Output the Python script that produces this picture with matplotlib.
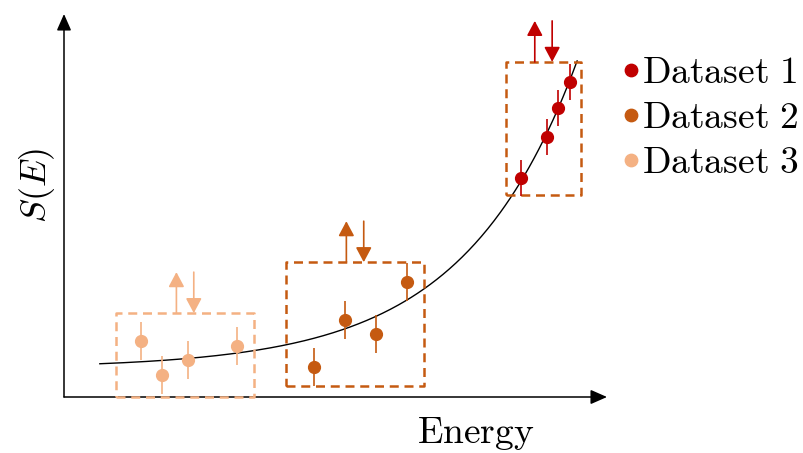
import numpy as np
import matplotlib
matplotlib.use("Agg")
import matplotlib.pyplot as plt

plt.rcParams['mathtext.fontset'] = 'cm'

# measured points (arbitrary units) with symmetric errors
x1 = [8.42, 8.89, 9.10, 9.32]
y1 = [5.72, 6.79, 7.55, 8.22]
e1 = [0.47, 0.47, 0.47, 0.47]

x2 = [4.60, 5.17, 5.74, 6.32]
y2 = [0.78, 2.01, 1.64, 3.00]
e2 = [0.50, 0.50, 0.50, 0.50]

x3 = [1.42, 1.80, 2.28, 3.19]
y3 = [1.46, 0.57, 0.97, 1.33]
e3 = [0.50, 0.50, 0.50, 0.50]

# region boxes: x0, x1, y0, y1
box1 = [8.14, 9.52, 5.27, 8.75]
box2 = [4.09, 6.63, 0.29, 3.52]
box3 = [0.96, 3.50, 0.00, 2.19]

# exponential model  S(E) = a + b*exp(k*E)
fit_a, fit_b, fit_k = 0.75, 0.086, 0.48
fit_range = [0.66, 9.45]

c1 = '#c00000'
c2 = '#c55a11'
c3 = '#f4b183'

fig = plt.figure(figsize=(8.04, 4.53), dpi=100)
ax = fig.add_axes([64 / 804, 1 - 397 / 453, 543 / 804, 383 / 453])
ax.set_xlim(0, 10)
ax.set_ylim(0, 10)
for s in ax.spines.values():
    s.set_visible(False)
ax.set_xticks([])
ax.set_yticks([])

# axes with arrow heads
arr = dict(arrowstyle='-|>,head_length=0.5,head_width=0.22', mutation_scale=20,
           color='black', lw=1.1, shrinkA=0, shrinkB=0)
ax.annotate('', xy=(1, 0), xytext=(0, 0), xycoords='axes fraction',
            textcoords='axes fraction', arrowprops=arr, annotation_clip=False)
ax.annotate('', xy=(0, 1), xytext=(0, 0), xycoords='axes fraction',
            textcoords='axes fraction', arrowprops=arr, annotation_clip=False)

# model curve
e = np.linspace(fit_range[0], fit_range[1], 300)
ax.plot(e, fit_a + fit_b * np.exp(fit_k * e), color='black', lw=1.0, zorder=2)


def draw_box(b, color):
    xs = [b[0], b[1], b[1], b[0], b[0]]
    ys = [b[2], b[2], b[3], b[3], b[2]]
    ax.plot(xs, ys, ls=(0, (3.6, 2.3)), color=color, lw=1.8, clip_on=False, zorder=3)


def draw_arrows(b, color):
    xc = (b[0] + b[1]) / 2
    top = b[3]
    st = dict(arrowstyle='-|>,head_length=0.45,head_width=0.24', mutation_scale=20,
              color=color, lw=1.2, shrinkA=0, shrinkB=0)
    ax.annotate('', xy=(xc - 0.16, top + 1.07), xytext=(xc - 0.16, top),
                arrowprops=st, annotation_clip=False)
    ax.annotate('', xy=(xc + 0.16, top), xytext=(xc + 0.16, top + 1.07),
                arrowprops=st, annotation_clip=False)


draw_box(box3, c3)
draw_box(box2, c2)
draw_box(box1, c2)
draw_arrows(box3, c3)
draw_arrows(box2, c2)
draw_arrows(box1, c1)

for xs, ys, es, c, lab in [(x1, y1, e1, c1, r'$\mathrm{Dataset\ 1}$'),
                           (x2, y2, e2, c2, r'$\mathrm{Dataset\ 2}$'),
                           (x3, y3, e3, c3, r'$\mathrm{Dataset\ 3}$')]:
    ax.errorbar(xs, ys, yerr=es, fmt='none', ecolor=c, elinewidth=1.2, capsize=0, zorder=4)
    ax.plot(xs, ys, 'o', color=c, ms=8.5, label=lab, zorder=5, clip_on=False)

ax.legend(loc='upper left', bbox_to_anchor=(624 / 804, 1 - 55 / 453),
          bbox_transform=fig.transFigure, frameon=False, fontsize=27,
          handlelength=0.35, handletextpad=0.12, labelspacing=0.24,
          borderpad=0, borderaxespad=0, markerscale=1.05)

fig.text(476 / 804, 1 - 434 / 453, r'$\mathrm{Energy}$', fontsize=27, ha='center', va='center')
fig.text(37 / 804, 1 - 185 / 453, r'$S(E)$', fontsize=26, ha='center', va='center', rotation=90)

fig.savefig('out.png', dpi=100)
